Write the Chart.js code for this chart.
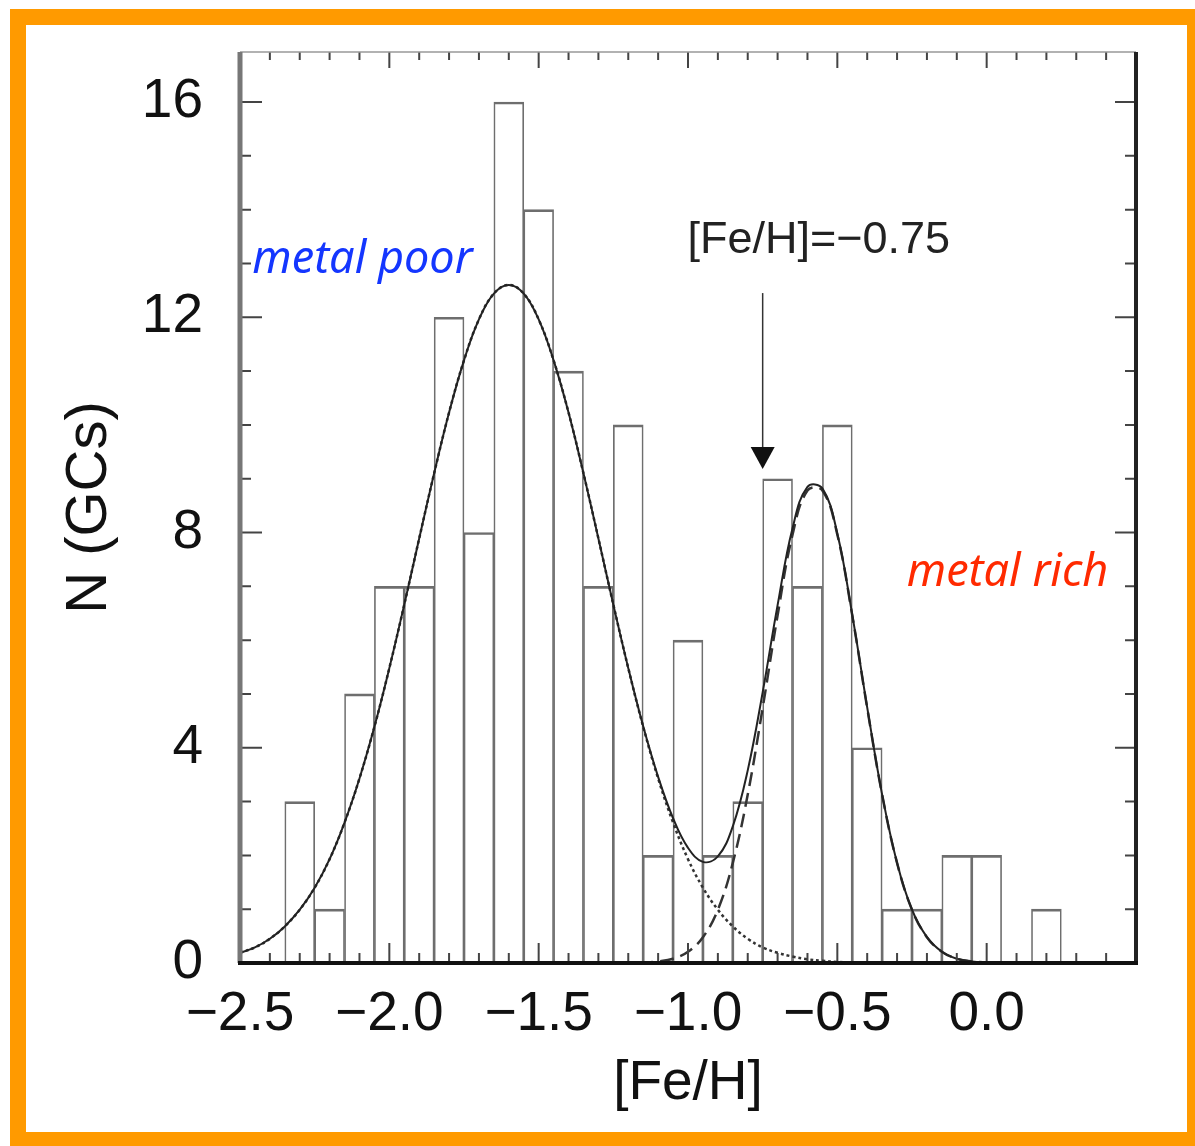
<!DOCTYPE html>
<html>
<head>
<meta charset="utf-8">
<script src="https://cdn.jsdelivr.net/npm/chart.js@4.4.1/dist/chart.umd.min.js"></script>
<style>
  html, body { margin: 0; padding: 0; background: #fff; overflow: hidden; }
  #wrap { position: relative; width: 1195px; height: 1146px; }
  #frame { position: absolute; left: 10px; top: 9px; width: 1161px; height: 1107px;
           border: 16px solid #ff9a00; pointer-events: none; }
</style>
</head>
<body>
<div id="wrap">
  <canvas id="myChart"></canvas>
  <div id="frame"></div>
</div>
<script>
// histogram bins ([Fe/H] bin centres) and counts
binCenters = [-2.3, -2.2, -2.1, -2.0, -1.9, -1.8, -1.7, -1.6, -1.5, -1.4, -1.3, -1.2, -1.1,
  -1.0, -0.9, -0.8, -0.7, -0.6, -0.5, -0.4, -0.3, -0.2, -0.1, 0.0, 0.1, 0.2];
counts = [3, 1, 5, 7, 7, 12, 8, 16, 14, 11, 7, 10, 2, 6, 2, 3, 9, 7, 10, 4, 1, 1, 2, 2, 0, 1];

// fitted curves, every 0.05 dex
curveX = [-2.5, -2.45, -2.4, -2.35, -2.3, -2.25, -2.2, -2.15, -2.1, -2.05,
  -2.0, -1.95, -1.9, -1.85, -1.8, -1.75, -1.7, -1.65, -1.6, -1.55,
  -1.5, -1.45, -1.4, -1.35, -1.3, -1.25, -1.2, -1.15, -1.1, -1.05,
  -1.0, -0.95, -0.9, -0.85, -0.8, -0.75, -0.7, -0.65, -0.6, -0.55,
  -0.5, -0.45, -0.4, -0.35, -0.3, -0.25, -0.2, -0.15, -0.1, -0.05,
  0.0, 0.05, 0.1, 0.15, 0.2, 0.25, 0.3, 0.35, 0.4, 0.45, 0.5];
metalPoorFit = [0.19, 0.29, 0.45, 0.68, 0.99, 1.40, 1.93, 2.61, 3.43, 4.39,
  5.48, 6.66, 7.89, 9.10, 10.23, 11.20, 11.96, 12.44, 12.60, 12.44,
  11.96, 11.20, 10.23, 9.10, 7.89, 6.66, 5.48, 4.39, 3.43, 2.61,
  1.93, 1.40, 0.99, 0.68, 0.45, 0.29, 0.19, 0.12, 0.07, 0.04,
  0.02, 0.01, 0.01, 0, 0, 0, 0, 0, 0, 0,
  0, 0, 0, 0, 0, 0, 0, 0, 0, 0, 0];
metalRichFit = [0, 0, 0, 0, 0, 0, 0, 0, 0, 0,
  0, 0, 0, 0, 0, 0, 0, 0, 0, 0,
  0, 0, 0, 0, 0, 0, 0, 0.01, 0.03, 0.08,
  0.21, 0.48, 0.99, 1.86, 3.13, 4.74, 6.46, 7.96, 8.78, 8.78,
  7.96, 6.46, 4.74, 3.13, 1.86, 0.99, 0.48, 0.21, 0.08, 0.03,
  0.01, 0, 0, 0, 0, 0, 0, 0, 0, 0, 0];
totalFit = [0.19, 0.29, 0.45, 0.68, 0.99, 1.40, 1.93, 2.61, 3.43, 4.39,
  5.48, 6.66, 7.89, 9.10, 10.23, 11.20, 11.96, 12.44, 12.60, 12.44,
  11.96, 11.20, 10.23, 9.10, 7.89, 6.66, 5.48, 4.40, 3.46, 2.69,
  2.14, 1.88, 1.98, 2.54, 3.58, 5.03, 6.65, 8.08, 8.85, 8.82,
  7.98, 6.47, 4.75, 3.13, 1.86, 0.99, 0.48, 0.21, 0.08, 0.03,
  0.01, 0, 0, 0, 0, 0, 0, 0, 0, 0, 0];

xTickValues = [-2.5, -2.0, -1.5, -1.0, -0.5, 0.0];
yTickValues = [0, 4, 8, 12, 16];
cutLabel = "[Fe/H]=\u22120.75";
cutValue = -0.75;

function pts(xv, yv) {
  let out = [];
  for (let i = 0; i < xv.length; i++) out.push({ x: xv[i], y: yv[i] });
  return out;
}

frame = {
  id: "frame",
  afterDatasetsDraw(chart) {
    const ctx = chart.ctx;
    const a = chart.chartArea;
    const xs = chart.scales.x;
    const ys = chart.scales.y;
    ctx.save();
    ctx.lineCap = "butt";
    // minor / major ticks, all pointing inwards
    ctx.strokeStyle = "#444";
    ctx.lineWidth = 2;
    for (let v = 0; v <= 16; v++) {
      const y = ys.getPixelForValue(v);
      const major = v % 4 == 0;
      ctx.beginPath();
      ctx.moveTo(a.left, y); ctx.lineTo(a.left + (major ? 22 : 11), y);
      ctx.moveTo(a.right, y); ctx.lineTo(a.right - (major ? 21 : 11), y);
      ctx.stroke();
    }
    for (let i = -25; i <= 5; i++) {
      const x = xs.getPixelForValue(i / 10);
      const major = i % 5 == 0;
      ctx.beginPath();
      ctx.moveTo(x, a.bottom); ctx.lineTo(x, a.bottom - (major ? 20 : 10));
      ctx.moveTo(x, a.top); ctx.lineTo(x, a.top + (major ? 16 : 8));
      ctx.stroke();
    }
    // frame lines
    ctx.strokeStyle = "#999";
    ctx.lineWidth = 1.5;
    ctx.beginPath(); ctx.moveTo(a.left, a.top); ctx.lineTo(a.right, a.top); ctx.stroke();
    ctx.strokeStyle = "#777";
    ctx.lineWidth = 5;
    ctx.beginPath(); ctx.moveTo(a.left, a.top); ctx.lineTo(a.left, a.bottom); ctx.stroke();
    ctx.strokeStyle = "#222";
    ctx.lineWidth = 4;
    ctx.beginPath(); ctx.moveTo(a.right, a.top); ctx.lineTo(a.right, a.bottom + 2); ctx.stroke();
    ctx.strokeStyle = "#111";
    ctx.beginPath(); ctx.moveTo(a.left - 2, a.bottom); ctx.lineTo(a.right + 2, a.bottom); ctx.stroke();

    // cut annotation with arrow
    const ax = xs.getPixelForValue(cutValue);
    const top = ys.getPixelForValue(12.45);
    const tip = ys.getPixelForValue(9.18);
    ctx.strokeStyle = "#333";
    ctx.lineWidth = 1.5;
    ctx.beginPath(); ctx.moveTo(ax, top); ctx.lineTo(ax, tip - 18); ctx.stroke();
    ctx.fillStyle = "#111";
    ctx.beginPath();
    ctx.moveTo(ax - 12, tip - 22); ctx.lineTo(ax + 12, tip - 22); ctx.lineTo(ax, tip);
    ctx.closePath(); ctx.fill();
    ctx.font = "45px 'Liberation Sans', Arial, sans-serif";
    ctx.textAlign = "center";
    ctx.textBaseline = "alphabetic";
    ctx.fillStyle = "#222";
    ctx.fillText(cutLabel, xs.getPixelForValue(-0.562), ys.getPixelForValue(13.2));

    // component labels
    ctx.font = "italic 45px 'Noto Sans', sans-serif";
    ctx.fillStyle = "#1436ff";
    ctx.fillText("metal poor", xs.getPixelForValue(-2.09), ys.getPixelForValue(12.82));
    ctx.fillStyle = "#ff2a00";
    ctx.fillText("metal rich", xs.getPixelForValue(0.07), ys.getPixelForValue(7.0));
    ctx.restore();
  },
};

graphSpecs = {
  datasets: [
    {
      type: "line",
      data: pts(curveX, totalFit),
      borderColor: "#222",
      borderWidth: 2,
      pointRadius: 0,
      tension: 0.4,
      order: 0,
    },
    {
      type: "line",
      data: pts(curveX, metalPoorFit),
      borderColor: "#333",
      borderWidth: 2.5,
      borderDash: [3, 3],
      pointRadius: 0,
      tension: 0.4,
      order: 1,
    },
    {
      type: "line",
      data: pts(curveX, metalRichFit),
      borderColor: "#333",
      borderWidth: 2.5,
      borderDash: [14, 7],
      pointRadius: 0,
      tension: 0.4,
      order: 2,
    },
    {
      type: "bar",
      data: pts(binCenters, counts),
      backgroundColor: "rgba(255,255,255,0)",
      borderColor: "#6e6e6e",
      borderWidth: { top: 2, left: 1, right: 1, bottom: 0 },
      borderSkipped: "start",
      barPercentage: 1,
      categoryPercentage: 1,
      order: 5,
    },
  ],
};

config = {
  type: "bar",
  data: graphSpecs,
  options: {
    responsive: true,
    maintainAspectRatio: false,
    animation: false,
    events: [],
    layout: { padding: { top: 52, right: 59, left: 0, bottom: 0 } },
    plugins: { legend: { display: false }, tooltip: { enabled: false } },
    scales: {
      x: {
        type: "linear",
        min: -2.5,
        max: 0.5,
        offset: false,
        grid: { display: false, drawTicks: false },
        border: { display: false },
        afterBuildTicks: function (scale) {
          scale.ticks = xTickValues.map(function (v) { return { value: v }; });
        },
        afterFit: function (scale) {
          scale.height = 183;
          scale.paddingLeft = 0;
          scale.paddingRight = 0;
        },
        ticks: {
          padding: 19,
          color: "#111",
          font: { family: "'Liberation Sans', Arial, sans-serif", size: 55 },
          maxRotation: 0,
          autoSkip: false,
          callback: function (v) {
            return (v < 0 ? "\u2212" : "") + Math.abs(v).toFixed(1);
          },
        },
        title: {
          display: true,
          text: "[Fe/H]",
          color: "#111",
          font: { family: "'Liberation Sans', Arial, sans-serif", size: 55 },
          padding: { top: 0, bottom: 29 },
        },
      },
      y: {
        min: 0,
        max: 16.93,
        grid: { display: false, drawTicks: false },
        border: { display: false },
        afterBuildTicks: function (scale) {
          scale.ticks = yTickValues.map(function (v) { return { value: v }; });
        },
        afterFit: function (scale) {
          scale.width = 240;
          scale.paddingTop = 0;
          scale.paddingBottom = 0;
        },
        ticks: {
          padding: 37,
          color: "#111",
          font: { family: "'Liberation Sans', Arial, sans-serif", size: 55 },
        },
        title: {
          display: true,
          text: "N (GCs)",
          color: "#111",
          font: { family: "'Liberation Sans', Arial, sans-serif", size: 58 },
          padding: { top: 55, bottom: 0 },
        },
      },
    },
  },
  plugins: [frame],
};

myChart = new Chart(document.getElementById("myChart"), config);
</script>
</body>
</html>
